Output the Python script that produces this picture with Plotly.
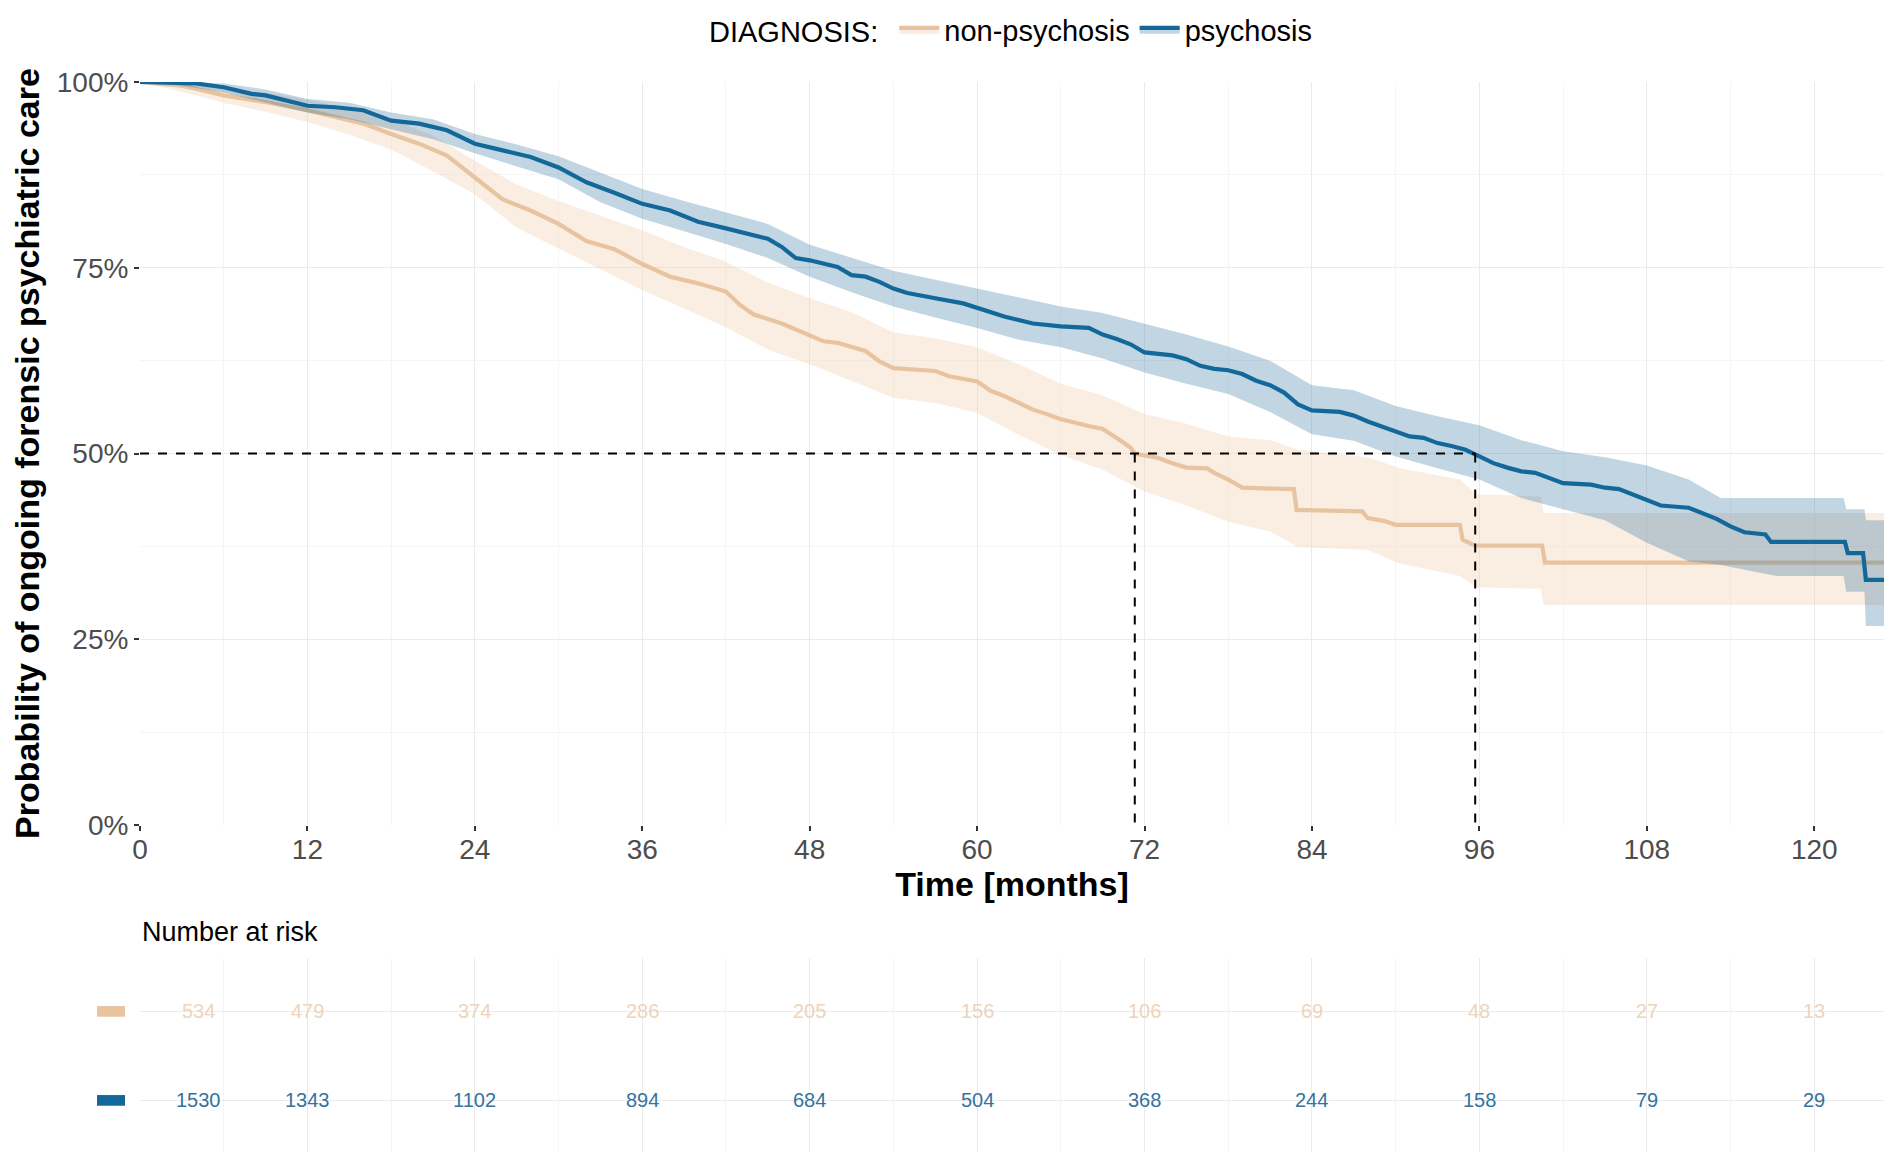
import plotly.graph_objects as go

# ---------------- data ----------------
group_names = ["non-psychosis", "psychosis"]

# Kaplan-Meier estimate, non-psychosis (percent)
np_time = [0, 3, 4, 6, 9, 12, 14, 16, 18, 20, 22, 24, 26, 28, 30, 32, 34, 36, 38, 40,
           42, 43, 44, 46, 48, 49, 50, 52, 53, 54, 57, 58, 60, 61, 62, 64, 65, 66, 68, 69,
           70, 71, 71.3, 73, 74, 75, 76.5, 77, 78, 79, 82.7, 82.9, 87.6, 88.0, 89.2, 90.0, 94.6, 94.8, 95.7, 100.5,
           100.7, 125]
np_surv = [100, 99.5, 99.1, 98.2, 97.3, 96.2, 95.3, 94.4, 93.0, 91.7, 90.1, 87.2, 84.2, 82.7, 80.9, 78.6, 77.5, 75.5, 73.8, 72.9,
           71.8, 70.0, 68.7, 67.5, 66.0, 65.1, 64.9, 63.8, 62.4, 61.5, 61.1, 60.4, 59.7, 58.4, 57.7, 55.9, 55.3, 54.6, 53.7, 53.3,
           52.1, 50.8, 50.0, 49.4, 48.7, 48.1, 48.0, 47.4, 46.5, 45.4, 45.2, 42.4, 42.2, 41.3, 40.9, 40.4, 40.4, 38.4, 37.6, 37.6,
           35.3, 35.3]

# confidence band, non-psychosis
np_band_time = [0, 3, 6, 9, 12, 15, 18, 21, 24, 27, 30, 33, 36, 39, 42, 45, 48, 51, 54, 57,
                60, 63, 66, 69, 72, 75, 78, 81, 83, 88, 90.3, 94.6, 95.8, 100.4, 100.6, 125]
np_lower = [100, 98.7, 97.2, 96.0, 94.6, 92.9, 90.9, 88.0, 84.9, 80.4, 77.6, 74.8, 72.0, 69.5, 67.0, 64.0, 62.0, 59.8, 57.5, 56.8,
            55.5, 52.5, 49.8, 47.8, 44.9, 43.0, 40.8, 39.5, 37.4, 37.0, 35.2, 33.5, 32.0, 31.8, 29.6, 29.6]
np_upper = [100, 100, 99.2, 98.6, 97.6, 96.4, 95.0, 92.8, 89.4, 86.2, 84.0, 82.0, 80.0, 77.8, 75.8, 73.0, 70.9, 69.0, 66.3, 65.5,
            64.3, 62.0, 59.4, 57.8, 55.3, 54.0, 52.3, 51.8, 50.5, 49.5, 48.0, 46.5, 44.5, 44.2, 42.0, 42.0]

# Kaplan-Meier estimate, psychosis (percent)
ps_time = [0, 4, 6, 8, 9, 11, 12, 14, 16, 18, 20, 22, 24, 26, 28, 30, 32, 34, 36, 38,
           40, 42, 44, 45, 46, 47, 48, 49, 50, 51, 52, 53, 54, 55, 56, 57, 59, 60, 62, 64,
           66, 68, 69, 70, 71, 72, 74, 75, 76, 77, 78, 79, 80, 81, 82, 83, 84, 86, 87, 88,
           89, 90, 91, 92, 93, 94, 95, 96, 97, 98, 99, 100, 101, 102, 104, 105, 106, 107, 108, 109,
           111, 112, 113, 114, 115, 116.5, 116.9, 122.2, 122.4, 123.5, 123.7, 125]
ps_surv = [100, 99.8, 99.3, 98.4, 98.2, 97.3, 96.8, 96.6, 96.2, 94.8, 94.4, 93.5, 91.7, 90.8, 89.9, 88.5, 86.5, 85.1, 83.6, 82.7,
           81.2, 80.3, 79.4, 78.9, 77.8, 76.3, 76.0, 75.6, 75.1, 74.0, 73.8, 73.1, 72.2, 71.6, 71.3, 70.9, 70.2, 69.6, 68.4, 67.5,
           67.1, 66.9, 66.0, 65.4, 64.7, 63.6, 63.2, 62.7, 61.8, 61.4, 61.2, 60.7, 59.8, 59.2, 58.2, 56.6, 55.8, 55.6, 55.1, 54.3,
           53.6, 52.9, 52.3, 52.1, 51.4, 51.0, 50.5, 49.6, 48.7, 48.1, 47.6, 47.4, 46.7, 46.0, 45.8, 45.4, 45.2, 44.5, 43.7, 43.0,
           42.7, 41.9, 41.2, 40.2, 39.4, 39.1, 38.1, 38.1, 36.6, 36.6, 33.0, 33.0]

# confidence band, psychosis
ps_band_time = [0, 3, 6, 9, 12, 15, 18, 21, 24, 27, 30, 33, 36, 39, 42, 45, 48, 51, 54, 57,
                60, 63, 66, 69, 72, 75, 78, 81, 84, 87, 90, 93, 96, 99, 102, 105, 108, 111, 113.3, 117.3,
                122.1, 122.3, 123.6, 123.7, 125]
ps_lower = [100, 99.5, 98.6, 97.3, 95.9, 95.0, 93.6, 92.3, 90.4, 88.6, 86.9, 83.8, 81.6, 79.9, 78.2, 76.3, 73.8, 71.7, 69.8, 68.3,
            66.9, 65.3, 64.3, 62.8, 60.9, 59.4, 58.0, 55.6, 52.6, 51.7, 49.6, 48.0, 46.5, 44.0, 42.5, 41.0, 38.0, 35.5, 35.0, 33.5,
            33.5, 31.4, 31.4, 26.8, 26.8]
ps_upper = [100, 100, 99.8, 99.0, 97.7, 97.2, 95.9, 95.0, 93.0, 91.6, 90.0, 87.8, 85.6, 84.0, 82.4, 80.9, 78.1, 76.4, 74.6, 73.4,
            72.2, 71.0, 69.8, 68.9, 67.5, 66.0, 64.4, 62.5, 59.2, 58.5, 56.4, 55.0, 53.8, 51.8, 50.3, 49.5, 48.4, 46.5, 44.0, 44.0,
            44.0, 42.5, 42.5, 41.0, 41.0]

# median survival times (months) and level (%)
median_times = [71.3, 95.7]
median_level = 50

# number at risk table
risk_times = [0, 12, 24, 36, 48, 60, 72, 84, 96, 108, 120]
risk_np = [534, 479, 374, 286, 205, 156, 106, 69, 48, 27, 13]
risk_ps = [1530, 1343, 1102, 894, 684, 504, 368, 244, 158, 79, 29]

x_ticks = [0, 12, 24, 36, 48, 60, 72, 84, 96, 108, 120]
y_ticks = [0, 25, 50, 75, 100]
y_ticklabels = ["0%", "25%", "50%", "75%", "100%"]

# ---------------- styling ----------------
PAGE_OFF = 8                      # default body margin of the html page
W, H = 1902 - PAGE_OFF, 1167 - PAGE_OFF
M_L, M_R, M_T, M_B = 140 - PAGE_OFF, 18, 82 - PAGE_OFF, 15
X_RANGE = [0, 125]
LINE_COL = {"non-psychosis": "#E8C3A0", "psychosis": "#13689A"}
BAND_COL = {"non-psychosis": "rgba(242,212,186,0.42)", "psychosis": "rgba(40,110,160,0.29)"}
TXT_COL = {"non-psychosis": "#EDD4BC", "psychosis": "#33739F"}
FONT = "Liberation Sans, Arial, Helvetica, sans-serif"
GRID_MAJ = "#EBEBEB"
GRID_MIN = "#F5F5F5"

plot_w = W - M_L - M_R
plot_h = H - M_T - M_B
# vertical positions below are page pixels of the reference
main_dom = [(1152 - 825) / plot_h, 1.0]
table_dom = [0.0, (1152 - 958) / plot_h]

fig = go.Figure()

series = {
    "non-psychosis": (np_time, np_surv, np_band_time, np_lower, np_upper),
    "psychosis": (ps_time, ps_surv, ps_band_time, ps_lower, ps_upper),
}

for name in group_names:
    t, s, bt, lo, hi = series[name]
    # confidence band
    fig.add_trace(go.Scatter(x=bt, y=hi, mode="lines", line=dict(width=0),
                             showlegend=False, hoverinfo="skip", legendgroup=name))
    fig.add_trace(go.Scatter(x=bt, y=lo, mode="lines", line=dict(width=0),
                             fill="tonexty", fillcolor=BAND_COL[name],
                             showlegend=False, hoverinfo="skip", legendgroup=name))
    # zero-area twin, so the legend key shows a filled patch behind the line
    fig.add_trace(go.Scatter(x=t, y=s, mode="lines", line=dict(width=0),
                             showlegend=False, hoverinfo="skip", legendgroup=name))
    fig.add_trace(go.Scatter(x=t, y=s, mode="lines", name=name, legendgroup=name,
                             line=dict(color=LINE_COL[name], width=4.2),
                             fill="tonexty", fillcolor=BAND_COL[name]))

# median reference lines
mx, my = [0, max(median_times)], [median_level, median_level]
for m in median_times:
    mx += [None, m, m]
    my += [None, median_level, 0]
fig.add_trace(go.Scatter(x=mx, y=my, mode="lines", showlegend=False, hoverinfo="skip",
                         line=dict(color="black", width=2, dash="dash")))

# risk table (bottom panel)
fig.add_trace(go.Scatter(x=[X_RANGE[0], X_RANGE[1]], y=[1, 2], mode="markers",
                         marker=dict(opacity=0), showlegend=False, hoverinfo="skip",
                         xaxis="x2", yaxis="y2"))

annotations = []
for row, (name, counts) in enumerate([("psychosis", risk_ps), ("non-psychosis", risk_np)], start=1):
    for i, (tt, n) in enumerate(zip(risk_times, counts)):
        annotations.append(dict(x=tt, y=row, xref="x2", yref="y2", text=str(n), showarrow=False,
                                xshift=58 if i == 0 else 0,
                                font=dict(family=FONT, size=20, color=TXT_COL[name])))

annotations.append(dict(x=0, y=(1152 - 932) / plot_h, xref="paper", yref="paper",
                        text="Number at risk", showarrow=False, xanchor="left", yanchor="middle",
                        font=dict(family=FONT, size=27, color="black")))

shapes = []
for row, name in [(1, "psychosis"), (2, "non-psychosis")]:
    shapes.append(dict(type="rect", xref="paper", yref="y2",
                       x0=(97 - 140) / plot_w, x1=(125 - 140) / plot_w,
                       y0=row - 0.06, y1=row + 0.06, fillcolor=LINE_COL[name], line=dict(width=0)))

axis_common = dict(showline=False, zeroline=False, gridcolor=GRID_MAJ, gridwidth=1.4)

fig.update_layout(
    width=W, height=H,
    margin=dict(l=M_L, r=M_R, t=M_T, b=M_B, autoexpand=False),
    paper_bgcolor="white", plot_bgcolor="white",
    font=dict(family=FONT, color="black"),
    showlegend=True,
    legend=dict(orientation="h", x=0.5, xanchor="center", y=1 + 52 / plot_h, yanchor="middle",
                title=dict(text="DIAGNOSIS: ", font=dict(size=29, color="black")),
                font=dict(size=29, color="black"), itemwidth=40, bgcolor="rgba(0,0,0,0)"),
    xaxis=dict(domain=[0, 1], anchor="y", range=X_RANGE, tickvals=x_ticks,
               ticks="outside", ticklen=5, tickwidth=1.5, tickcolor="#333333",
               ticklabelstandoff=-6,
               tickfont=dict(size=28, color="#4D4D4D"),
               minor=dict(dtick=6, tick0=6, showgrid=True, gridcolor=GRID_MIN, gridwidth=1, ticks=""),
               title=dict(text="<b>Time [months]</b>", font=dict(size=34, color="black"), standoff=0),
               **axis_common),
    yaxis=dict(domain=main_dom, anchor="x", range=[0, 100], tickvals=y_ticks, ticktext=y_ticklabels,
               ticks="outside", ticklen=5, tickwidth=1.5, tickcolor="#333333",
               tickfont=dict(size=28, color="#4D4D4D"),
               minor=dict(dtick=12.5, tick0=12.5, showgrid=True, gridcolor=GRID_MIN, gridwidth=1, ticks=""),
               title=dict(text="<b>Probability of ongoing forensic psychiatric care</b>",
                          font=dict(size=34, color="black"), standoff=6),
               **axis_common),
    xaxis2=dict(domain=[0, 1], anchor="y2", range=X_RANGE, tickvals=x_ticks, showticklabels=False,
                ticks="", minor=dict(dtick=6, tick0=6, showgrid=True, gridcolor=GRID_MIN, gridwidth=1),
                **axis_common),
    yaxis2=dict(domain=table_dom, anchor="x2", range=[0.42, 2.6], tickvals=[1, 2],
                showticklabels=False, ticks="", **axis_common),
    annotations=annotations,
    shapes=shapes,
)

fig.write_html("out.html")
